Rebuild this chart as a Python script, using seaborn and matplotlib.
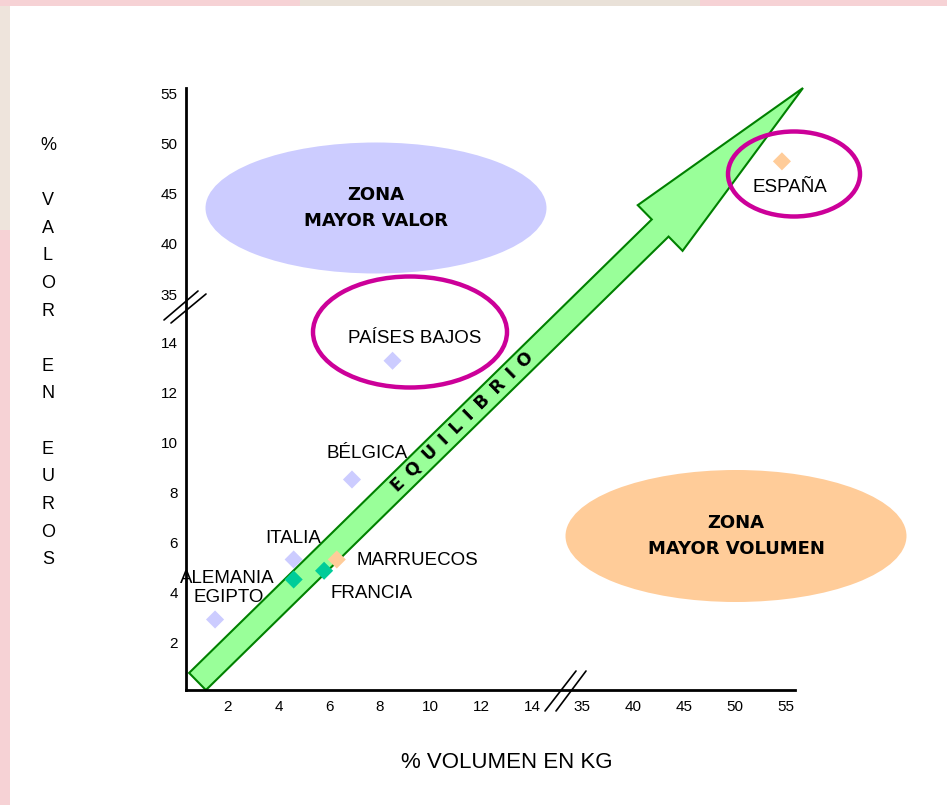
import numpy as np
import pandas as pd
import matplotlib
matplotlib.use("Agg")
import matplotlib.pyplot as plt
import seaborn as sns
from matplotlib.patches import Ellipse, Polygon, Rectangle
from matplotlib.lines import Line2D

# ---- data -------------------------------------------------------------
paises = ["EGIPTO", "ALEMANIA", "ITALIA", "FRANCIA", "MARRUECOS",
          "BÉLGICA", "PAÍSES BAJOS", "ESPAÑA"]
volumen_kg = [1.5, 4.6, 4.6, 5.8, 6.3, 6.9, 8.5, 54.6]       # % volumen en kg
valor_eur = [2.9, 4.5, 5.3, 4.85, 5.3, 8.5, 13.25, 48.2]     # % valor en euros
zona = ["valor", "equilibrio", "valor", "equilibrio", "volumen",
        "valor", "valor", "volumen"]

x_ticks = [2, 4, 6, 8, 10, 12, 14, 35, 40, 45, 50, 55]
y_ticks = [2, 4, 6, 8, 10, 12, 14, 35, 40, 45, 50, 55]

colores = {"valor": "#CCCCFF", "equilibrio": "#00CC99", "volumen": "#FFCC99"}

df = pd.DataFrame({"pais": paises, "volumen": volumen_kg,
                   "valor": valor_eur, "zona": zona})

# label offsets (pixels) and alignment for each country name
etiquetas = {
    "EGIPTO": (14, 22, "center"),
    "ALEMANIA": (-66, 1, "center"),
    "ITALIA": (0, 21, "center"),
    "FRANCIA": (47, -23, "center"),
    "MARRUECOS": (20, -1, "left"),
    "BÉLGICA": (15, 26, "center"),
    "PAÍSES BAJOS": (22, 22, "center"),
    "ESPAÑA": (8, -26, "center"),
}

# ---- broken axis scales (piecewise linear) ----------------------------
x_knots = [-5.0, 14.0, 35.0, 65.0]
x_pos = [50.25, 532.0, 582.0, 888.0]
y_knots = [-5.0, 14.0, 35.0, 65.0]
y_pos = [-125.0, 350.0, 398.0, 699.5]


def x_fwd(v):
    return np.interp(v, x_knots, x_pos)


def x_inv(p):
    return np.interp(p, x_pos, x_knots)


def y_fwd(v):
    return np.interp(v, y_knots, y_pos)


def y_inv(p):
    return np.interp(p, y_pos, y_knots)


# ---- figure -----------------------------------------------------------
sns.set_theme(style="white")
plt.rcParams["font.family"] = ["Liberation Sans", "DejaVu Sans"]
plt.rcParams["text.color"] = "black"
plt.rcParams["axes.labelcolor"] = "black"
plt.rcParams["xtick.color"] = "black"
plt.rcParams["ytick.color"] = "black"

W, H = 947, 805
fig = plt.figure(figsize=(W / 100, H / 100), dpi=100, facecolor="#F6D2D5")


def fx(x):
    return x / W


def fy(y):
    return 1 - y / H


# slide frame
fig.add_artist(Rectangle((fx(10), 0), 1 - fx(10), fy(6), transform=fig.transFigure,
                         facecolor="white", edgecolor="none", zorder=0))
fig.add_artist(Rectangle((0, fy(230)), fx(10), fy(6) - fy(230), transform=fig.transFigure,
                         facecolor="#EDE9DF", edgecolor="none", zorder=0, alpha=0.8))
fig.add_artist(Rectangle((fx(300), fy(6)), fx(700) - fx(300), 1 - fy(6), transform=fig.transFigure,
                         facecolor="#E6E6DA", edgecolor="none", zorder=0, alpha=0.8))

ax = fig.add_axes([fx(186), fy(690), fx(795) - fx(186), fy(88) - fy(690)])
ax.set_zorder(5)
ax.set_facecolor("none")
ax.set_xscale("function", functions=(x_fwd, x_inv))
ax.set_yscale("function", functions=(y_fwd, y_inv))
ax.set_xlim(x_inv(186), x_inv(795))
ax.set_ylim(y_inv(2), y_inv(604))

# zone backgrounds
for (cx, cy, w, h, col, txt) in [
        (376, 208, 341, 131, "#CCCCFF", "ZONA\nMAYOR VALOR"),
        (736, 536, 341, 132, "#FFCC99", "ZONA\nMAYOR VOLUMEN")]:
    fig.add_artist(Ellipse((fx(cx), fy(cy)), w / W, h / H, transform=fig.transFigure,
                           facecolor=col, edgecolor="none", zorder=1))
    fig.text(fx(cx), fy(cy), txt, ha="center", va="center", fontsize=13,
             fontweight="bold", family="DejaVu Sans", linespacing=1.55, zorder=2)

# equilibrium arrow
tail = np.array([197.5, 681.5])
tip = np.array([803.0, 88.0])
shaft_w, head_w, head_len = 24.0, 64.0, 200.0
u = (tip - tail) / np.linalg.norm(tip - tail)
n = np.array([-u[1], u[0]])
base = tip - u * head_len
pts = [tail + n * shaft_w / 2, base + n * shaft_w / 2, base + n * head_w / 2, tip,
       base - n * head_w / 2, base - n * shaft_w / 2, tail - n * shaft_w / 2]
fig.add_artist(Polygon([(fx(p[0]), fy(p[1])) for p in pts], closed=True,
                       transform=fig.transFigure, facecolor="#99FF99",
                       edgecolor="#008000", linewidth=1.5, zorder=3))
ang = np.degrees(np.arctan2(-(tip - tail)[1], (tip - tail)[0]))
fig.text(fx(462), fy(422), "\u2002".join("EQUILIBRIO"), ha="center", va="center",
         rotation=ang, rotation_mode="anchor", fontsize=12.5, fontweight="bold",
         family="DejaVu Sans", zorder=4)

# points
sns.scatterplot(data=df, x="volumen", y="valor", hue="zona", palette=colores,
                marker="D", s=85, linewidth=0, legend=False, ax=ax, zorder=5)
ax.collections[-1].set_clip_on(False)

for p, xv, yv in zip(paises, volumen_kg, valor_eur):
    dx, dy, ha = etiquetas[p]
    ax.annotate(p, (xv, yv), xytext=(dx, dy), textcoords="offset pixels",
                ha=ha, va="center", fontsize=13.5, zorder=6, annotation_clip=False)

# highlight rings
for (cx, cy, w, h) in [(410, 332, 194, 111), (794, 174, 132, 85)]:
    fig.add_artist(Ellipse((fx(cx), fy(cy)), w / W, h / H, transform=fig.transFigure,
                           facecolor="none", edgecolor="#CC0099", linewidth=3.2, zorder=7))

# axes styling
for s in ["top", "right"]:
    ax.spines[s].set_visible(False)
for s in ["left", "bottom"]:
    ax.spines[s].set_color("black")
    ax.spines[s].set_linewidth(2)
    ax.spines[s].set_zorder(8)
ax.set_xticks(x_ticks)
ax.set_xticklabels([str(t) for t in x_ticks], fontsize=11)
ax.set_yticks(y_ticks)
ax.set_yticklabels([str(t) for t in y_ticks], fontsize=11)
ax.minorticks_off()
ax.tick_params(axis="both", length=0, colors="black")
ax.tick_params(axis="x", pad=7)
ax.tick_params(axis="y", pad=6)
ax.grid(False)

ax.set_xlabel("% VOLUMEN EN KG", fontsize=16)
ax.xaxis.set_label_coords((507 - 186) / 609, (690 - 762) / 602)
ax.xaxis.label.set_va("center")

ax.set_ylabel("%\n\nV\nA\nL\nO\nR\n\nE\nN\n\nE\nU\nR\nO\nS", rotation=0,
              fontsize=13, linespacing=1.82, ha="center", va="center")
ax.yaxis.set_label_coords((48 - 186) / 609, (690 - 352.5) / 602)

# axis break marks
for (x0, y0, x1, y1) in [(164, 320, 198, 291), (171, 323, 206, 294),
                         (545, 711, 576, 671), (556, 711, 586, 671)]:
    fig.add_artist(Line2D([fx(x0), fx(x1)], [fy(y0), fy(y1)], transform=fig.transFigure,
                          color="black", linewidth=1.2, zorder=9))

fig.savefig("out.png", dpi=100, facecolor=fig.get_facecolor())
